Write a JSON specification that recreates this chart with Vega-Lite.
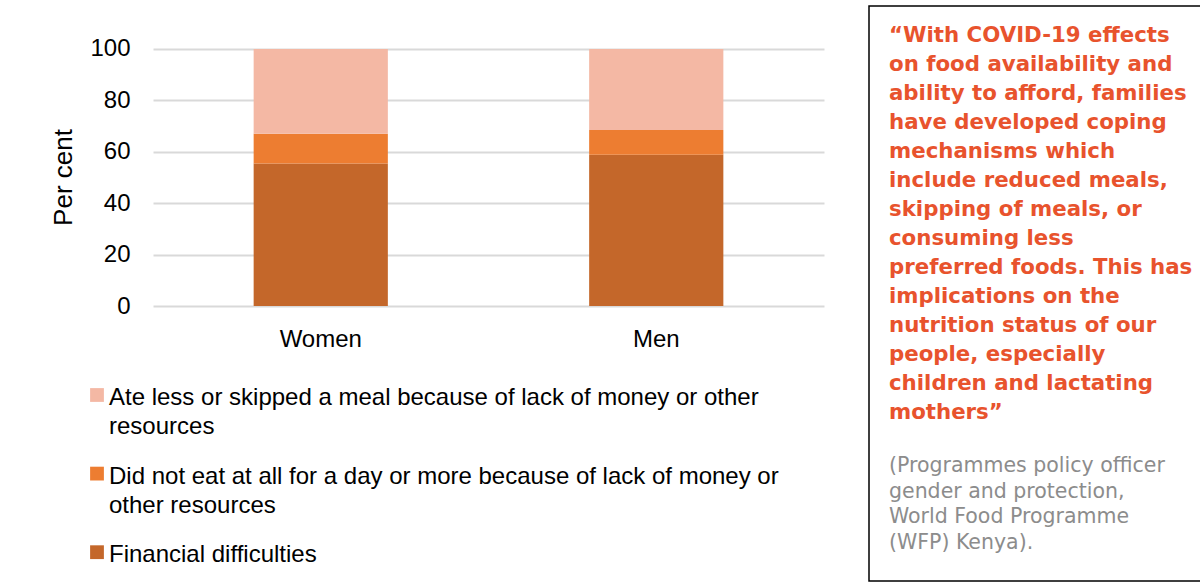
{
  "$schema": "https://vega.github.io/schema/vega-lite/v6.json",
  "background": "white",
  "padding": {"left": 50, "top": 5, "right": 0, "bottom": 0},
  "spacing": 44,
  "config": {"view": {"stroke": null}, "font": "Liberation Sans"},
  "hconcat": [
    {
      "vconcat": [
        {
          "width": 671,
          "height": 300,
          "data": {
            "values": [
              {"gender": "Women", "category": "Financial difficulties", "percent": 55.4},
              {"gender": "Women", "category": "Did not eat at all for a day or more because of lack of money or other resources", "percent": 11.6},
              {"gender": "Women", "category": "Ate less or skipped a meal because of lack of money or other resources", "percent": 33.0},
              {"gender": "Men", "category": "Financial difficulties", "percent": 58.9},
              {"gender": "Men", "category": "Did not eat at all for a day or more because of lack of money or other resources", "percent": 9.6},
              {"gender": "Men", "category": "Ate less or skipped a meal because of lack of money or other resources", "percent": 31.5}
            ]
          },
          "mark": {"type": "bar"},
          "encoding": {
            "x": {
              "field": "gender",
              "type": "nominal",
              "sort": ["Women", "Men"],
              "scale": {"paddingInner": 0.6, "paddingOuter": 0.3},
              "axis": {"title": null, "labelAngle": 0, "labelFontSize": 24, "labelPadding": 21, "ticks": false, "domain": false, "labelColor": "#000000"}
            },
            "y": {
              "field": "percent",
              "type": "quantitative",
              "stack": "zero",
              "scale": {"domain": [0, 116.73], "nice": false},
              "axis": {
                "title": "Per cent",
                "values": [0, 20, 40, 60, 80, 100],
                "titleFontSize": 26,
                "titleFontWeight": "normal",
                "titleColor": "#000000",
                "titlePadding": 13,
                "titleY": 171,
                "labelFontSize": 24,
                "labelColor": "#000000",
                "labelPadding": 23,
                "ticks": false,
                "domain": false,
                "gridColor": "#D9D9D9",
                "gridWidth": 1.8
              }
            },
            "color": {
              "field": "category",
              "type": "nominal",
              "scale": {
                "domain": [
                  "Ate less or skipped a meal because of lack of money or other resources",
                  "Did not eat at all for a day or more because of lack of money or other resources",
                  "Financial difficulties"
                ],
                "range": ["#F4B8A4", "#ED7D31", "#C4672A"]
              },
              "legend": null
            },
            "order": {"field": "category", "sort": "descending"}
          }
        },
        {
          "width": 671,
          "height": 196.5,
          "data": {
            "values": [
              {"category": "Ate less or skipped a meal because of lack of money or other resources", "lines": ["Ate less or skipped a meal because of lack of money or other", "resources"]},
              {"category": "Did not eat at all for a day or more because of lack of money or other resources", "lines": ["Did not eat at all for a day or more because of lack of money or", "other resources"]},
              {"category": "Financial difficulties", "lines": ["Financial difficulties"]}
            ]
          },
          "encoding": {
            "x": {"datum": 0, "type": "quantitative", "scale": {"domain": [0, 1], "range": [-56, 615]}, "axis": null},
            "y": {
              "field": "category",
              "type": "nominal",
              "sort": null,
              "scale": {
                "type": "point",
                "padding": 0.25,
                "domain": [
                  "Ate less or skipped a meal because of lack of money or other resources",
                  "Did not eat at all for a day or more because of lack of money or other resources",
                  "Financial difficulties"
                ]
              },
              "axis": null
            }
          },
          "layer": [
            {
              "mark": {"type": "square", "size": 190, "opacity": 1, "filled": true},
              "encoding": {
                "color": {
                  "field": "category",
                  "type": "nominal",
                  "scale": {
                    "domain": [
                      "Ate less or skipped a meal because of lack of money or other resources",
                      "Did not eat at all for a day or more because of lack of money or other resources",
                      "Financial difficulties"
                    ],
                    "range": ["#F4B8A4", "#ED7D31", "#C4672A"]
                  },
                  "legend": null
                }
              }
            },
            {
              "mark": {"type": "text", "align": "left", "baseline": "alphabetic", "dx": 12, "dy": 10, "fontSize": 24, "lineHeight": 29, "color": "#000000"},
              "encoding": {"text": {"field": "lines"}}
            }
          ]
        }
      ],
      "spacing": 69.35,
      "bounds": "flush"
    },
    {
      "width": 332,
      "height": 575,
      "view": {"stroke": "#000000", "strokeWidth": 1.5},
      "data": {
        "values": [
          {"part": "quote", "line": 0, "text": ["“With COVID-19 effects", "on food availability and", "ability to afford, families", "have developed coping", "mechanisms which", "include reduced meals,", "skipping of meals, or", "consuming less", "preferred foods. This has", "implications on the", "nutrition status of our", "people, especially", "children and lactating", "mothers”"]},
          {"part": "source", "line": 15, "text": ["(Programmes policy officer", "gender and protection,", "World Food Programme", "(WFP) Kenya)."]}
        ]
      },
      "encoding": {
        "x": {"datum": 0, "type": "quantitative", "scale": {"domain": [0, 1]}, "axis": null},
        "y": {"field": "line", "type": "quantitative", "scale": {"domain": [-0.66, 19.34], "reverse": true, "nice": false}, "axis": null},
        "text": {"field": "text"}
      },
      "layer": [
        {
          "transform": [{"filter": "datum.part == 'quote'"}],
          "mark": {"type": "text", "align": "left", "baseline": "top", "dx": 20, "font": "DejaVu Sans", "fontWeight": "bold", "fontSize": 21.3, "lineHeight": 29, "color": "#E8532D"}
        },
        {
          "transform": [{"filter": "datum.part == 'source'"}],
          "mark": {"type": "text", "align": "left", "baseline": "top", "dx": 20, "font": "DejaVu Sans", "fontSize": 20.5, "lineHeight": 25.5, "color": "#8C8C8C"}
        }
      ]
    }
  ]
}
